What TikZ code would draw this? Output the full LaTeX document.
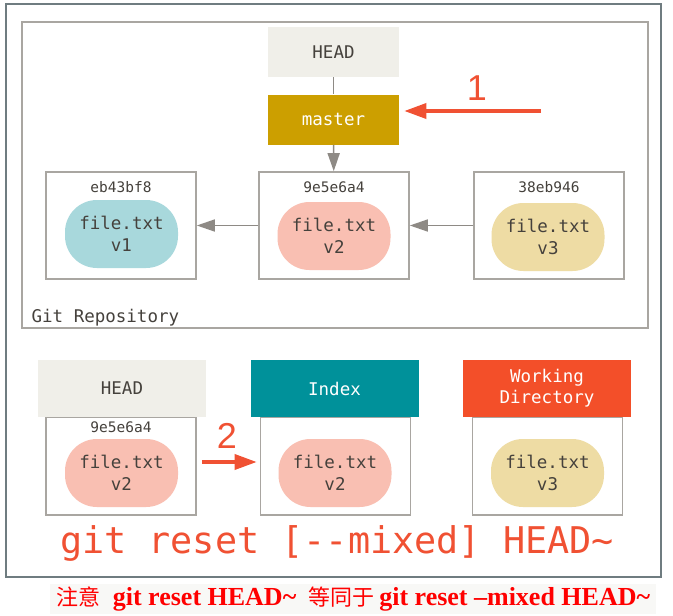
\documentclass[tikz,border=0pt]{standalone}
\usepackage{fontspec}
\setmainfont{Liberation Serif}
\setsansfont{Liberation Sans}
\setmonofont{DejaVu Sans Mono}
\newfontfamily\cjk{Noto Sans CJK SC}
\usetikzlibrary{calc,shapes,arrows.meta}
\definecolor{headgray}{HTML}{F0EFE9}
\definecolor{mastergold}{HTML}{CC9F00}
\definecolor{indexteal}{HTML}{00919A}
\definecolor{workred}{HTML}{F34F29}
\definecolor{blobblue}{HTML}{A8D8DC}
\definecolor{blobpink}{HTML}{F9BFB2}
\definecolor{blobyellow}{HTML}{EEDCA4}
\definecolor{boxgray}{HTML}{A9A6A1}
\definecolor{arrowgray}{HTML}{8E8A85}
\definecolor{stepred}{HTML}{F05133}
\definecolor{textgray}{HTML}{45413C}
\definecolor{framegray}{HTML}{6F7C80}
\definecolor{notebg}{HTML}{F8F8F6}
\tikzset{
  commitbox/.style={draw=boxgray,line width=1.6pt,fill=white,minimum width=150pt,minimum height=107pt},
  areabox/.style={draw=boxgray,line width=1.6pt,fill=white,minimum width=150pt,minimum height=98pt},
  header/.style={minimum width=168pt,minimum height=57pt,align=center,font=\ttfamily\fontsize{17.5}{21}\selectfont},
  blob/.style={rounded corners=32pt,minimum width=113pt,minimum height=68pt,align=center,text=textgray,font=\ttfamily\fontsize{17.5}{22}\selectfont},
  hash/.style={text=textgray,font=\ttfamily\fontsize{14.5}{17}\selectfont},
  grayarrow/.style={draw=arrowgray,line width=1.6pt,-{Triangle[length=18pt,width=12pt]}},
  redarrow/.style={draw=stepred,line width=3.5pt,-{Triangle[length=22pt,width=15pt]}},
  stepnum/.style={text=stepred,font=\sffamily\fontsize{36}{40}\selectfont}
}
\newcommand{\tikzFileNode}[4]{
  \node[blob,fill=#3] (#1) at (#2) {file.txt\\#4};
}

\begin{document}
\begin{tikzpicture}[x=1pt,y=-1pt,semithick]
  \useasboundingbox (0,0) rectangle (673,616);
  \draw[framegray,line width=1.2pt] (6,4) rectangle (661,577);

  % repository
  \node[draw=boxgray,line width=1.6pt,minimum width=626pt,minimum height=306pt] (repo) at (335,175) {};
  \node[anchor=west,text=textgray,font=\ttfamily\fontsize{17.5}{21}\selectfont] (repolabel) at (28,318) {Git Repository};

  \node[fill=headgray,minimum width=131pt,minimum height=50pt,text=textgray,font=\ttfamily\fontsize{17.5}{21}\selectfont] (head) at (333.5,52) {HEAD};
  \node[fill=mastergold,minimum width=131pt,minimum height=50pt,text=white,font=\ttfamily\fontsize{17.5}{21}\selectfont] (master) at (333.5,119.5) {master};

  \node[commitbox] (c1) at (121,225.5) {};
  \node[hash] (h1) at (121,187) {eb43bf8};
  \tikzFileNode{f1}{121.5,234}{blobblue}{v1}

  \node[commitbox] (c2) at (334,225.5) {};
  \node[hash] (h2) at (334,187) {9e5e6a4};
  \tikzFileNode{f2}{334,236}{blobpink}{v2}

  \node[commitbox] (c3) at (549,225.5) {};
  \node[hash] (h3) at (549,187) {38eb946};
  \tikzFileNode{f3}{548,237}{blobyellow}{v3}

  \draw[arrowgray,line width=1.6pt] (head) -- (master);
  \draw[grayarrow] (master) -- (c2);
  \draw[grayarrow] (c2) -- (c1);
  \draw[grayarrow] (c3) -- (c2);

  \coordinate (onetail) at (541,111);
  \draw[redarrow,shorten >=5pt] (onetail) -- (onetail -| master.east);
  \node[stepnum] (one) at (477,88) {1};

  % the three trees
  \node[areabox] (hbox) at (121,466) {};
  \node[header,fill=headgray,text=textgray] (hhead) at (122,388) {HEAD};
  \node[hash] (h4) at (121,427) {9e5e6a4};
  \tikzFileNode{f4}{121.5,473}{blobpink}{v2}

  \node[areabox] (ibox) at (335.5,466) {};
  \node[header,fill=indexteal,text=white] (ihead) at (334.5,388.5) {Index};
  \tikzFileNode{f5}{335,473}{blobpink}{v2}

  \node[areabox] (wbox) at (547.5,466) {};
  \node[header,fill=workred,text=white] (whead) at (547,388.5) {Working\\Directory};
  \tikzFileNode{f6}{547.5,473}{blobyellow}{v3}

  \draw[redarrow,shorten <=5pt,shorten >=3pt] ([yshift=4pt]hbox.east) -- ([yshift=4pt]ibox.west);
  \node[stepnum] (two) at (227,436) {2};

  \node[text=stepred,font=\ttfamily\fontsize{36.8}{40}\selectfont] (cmd) at (337,543) {git reset [-{}-mixed] HEAD\char`\~};

  \fill[notebg] (50,584) rectangle (656,614);
  \node[text=red,font=\bfseries\fontsize{26}{28}\selectfont] (note) at (353.5,599)
    {{\cjk\mdseries\fontsize{22}{25}\selectfont 注意}\hspace{12pt}git reset HEAD\char`\~\hspace{12pt}{\cjk\mdseries\fontsize{22}{25}\selectfont 等同于}\hspace{5pt}git reset –mixed HEAD\char`\~};
\end{tikzpicture}
\end{document}
